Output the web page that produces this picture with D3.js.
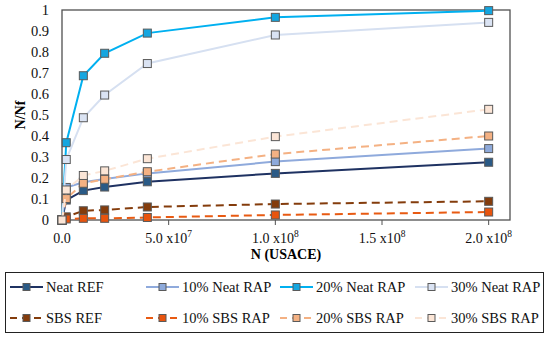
<!DOCTYPE html>
<html>
<head>
<meta charset="UTF-8">
<title>N/Nf vs N (USACE)</title>
<style>
    html, body { margin: 0; padding: 0; background: #fff; }
    svg { display: block; }
</style>
</head>
<body>
<svg width="550" height="339" font-family="Liberation Serif"></svg>
<script src="https://d3js.org/d3.v7.min.js"></script>
<script>
// data
var nValues = [0, 2e6, 1e7, 2e7, 4e7, 1e8, 2e8];
var neatRef = [0, 0.095, 0.140, 0.157, 0.182, 0.222, 0.275];
var neat10  = [0, 0.155, 0.180, 0.195, 0.222, 0.278, 0.340];
var neat20  = [0, 0.368, 0.687, 0.794, 0.890, 0.965, 0.997];
var neat30  = [0, 0.288, 0.487, 0.595, 0.745, 0.881, 0.941];
var sbsRef  = [0, 0.015, 0.044, 0.048, 0.062, 0.076, 0.089];
var sbs10   = [0, 0.005, 0.008, 0.008, 0.012, 0.024, 0.038];
var sbs20   = [0, 0.102, 0.175, 0.194, 0.230, 0.314, 0.400];
var sbs30   = [0, 0.143, 0.212, 0.234, 0.292, 0.397, 0.527];

var seriesNames = ["Neat REF", "10% Neat RAP", "20% Neat RAP", "30% Neat RAP",
                   "SBS REF", "10% SBS RAP", "20% SBS RAP", "30% SBS RAP"];
var seriesValues = [neatRef, neat10, neat20, neat30, sbsRef, sbs10, sbs20, sbs30];
var lineColors = ["#1f3262", "#8faadc", "#00b0f0", "#d6e0f1",
                  "#843c0c", "#e85a12", "#f4b183", "#fbe5d6"];
var markColors = ["#2a5a86", "#8eaadb", "#14a6e0", "#dae3f3",
                  "#843c0c", "#e8540e", "#f4b183", "#fbe5d6"];
var dashed = [false, false, false, false, true, true, true, true];

var xTicks = [0, 5e7, 1e8, 1.5e8, 2e8];
var xTickMant = ["0.0", "5.0 x10", "1.0 x10", "1.5 x10", "2.0 x10"];
var xTickExp = ["", "7", "8", "8", "8"];
var yTicks = [0, 0.1, 0.2, 0.3, 0.4, 0.5, 0.6, 0.7, 0.8, 0.9, 1];

// svg
var svg = d3.select("svg");
var pLeft = 62, pRight = 510, pTop = 10, pBottom = 220;

var x = d3.scaleLinear().domain([0, 2.1e8]).range([pLeft, pRight]);
var y = d3.scaleLinear().domain([0, 1]).range([pBottom, pTop]);

// plot frame
svg.append("rect")
    .attr("x", pLeft).attr("y", pTop)
    .attr("width", pRight - pLeft).attr("height", pBottom - pTop)
    .attr("fill", "none").attr("stroke", "#505050").attr("stroke-width", 1.3);

// x ticks
svg.selectAll(".xtick").data(xTicks).enter().append("line")
    .attr("x1", function (d) { return x(d); }).attr("x2", function (d) { return x(d); })
    .attr("y1", pBottom).attr("y2", pBottom + 5)
    .attr("stroke", "#505050").attr("stroke-width", 1);

var xl = svg.selectAll(".xlab").data(xTicks).enter().append("text")
    .attr("x", function (d) { return x(d); })
    .attr("y", 243)
    .attr("text-anchor", "middle")
    .attr("font-size", "14px")
    .attr("fill", "#111");
xl.append("tspan").text(function (d, i) { return xTickMant[i]; });
xl.append("tspan")
    .attr("dy", -6).attr("font-size", "9.5px")
    .text(function (d, i) { return xTickExp[i]; });

// y labels
svg.selectAll(".ylab").data(yTicks).enter().append("text")
    .attr("x", 49)
    .attr("y", function (d) { return y(d) + 5; })
    .attr("text-anchor", "end")
    .attr("font-size", "14.5px")
    .attr("fill", "#111")
    .text(function (d) { return d === 0 ? "0" : d === 1 ? "1" : d3.format(".1f")(d); });

// axis titles
svg.append("text")
    .attr("x", (pLeft + pRight) / 2).attr("y", 259)
    .attr("text-anchor", "middle").attr("font-size", "14px").attr("font-weight", "bold")
    .text("N (USACE)");
svg.append("text")
    .attr("transform", "translate(25," + ((pTop + pBottom) / 2) + ") rotate(-90)")
    .attr("text-anchor", "middle").attr("font-size", "14px").attr("font-weight", "bold")
    .text("N/Nf");

// series
var line = d3.line()
    .x(function (d, i) { return x(nValues[i]); })
    .y(function (d) { return y(d); });

var ms = 8;
seriesValues.forEach(function (vals, k) {
    var g = svg.append("g");
    g.append("path")
        .datum(vals)
        .attr("d", line)
        .attr("fill", "none")
        .attr("stroke", lineColors[k])
        .attr("stroke-width", 2)
        .attr("stroke-dasharray", dashed[k] ? "8,5" : null);
    g.selectAll("rect").data(vals).enter().append("rect")
        .attr("x", function (d, i) { return x(nValues[i]) - ms / 2; })
        .attr("y", function (d) { return y(d) - ms / 2; })
        .attr("width", ms).attr("height", ms)
        .attr("fill", markColors[k])
        .attr("stroke", "#5a5a5a").attr("stroke-width", 1);
});

// legend
svg.append("rect")
    .attr("x", 5.5).attr("y", 272.5)
    .attr("width", 538).attr("height", 60)
    .attr("fill", "none").attr("stroke", "#222").attr("stroke-width", 1);

var colX = [10, 146, 280, 415];
var rowY = [287, 318];
seriesNames.forEach(function (name, k) {
    var cx = colX[k % 4], cy = rowY[Math.floor(k / 4)];
    var lg = svg.append("g");
    lg.append("line")
        .attr("x1", cx).attr("x2", cx + 33)
        .attr("y1", cy).attr("y2", cy)
        .attr("stroke", lineColors[k]).attr("stroke-width", 2)
        .attr("stroke-dasharray", dashed[k] ? "7,5" : null);
    lg.append("rect")
        .attr("x", cx + 16.5 - 3.5).attr("y", cy - 3.5)
        .attr("width", 7).attr("height", 7)
        .attr("fill", markColors[k])
        .attr("stroke", "#5a5a5a").attr("stroke-width", 1);
    lg.append("text")
        .attr("x", cx + 36).attr("y", cy + 5)
        .attr("font-size", "14.5px").attr("fill", "#111")
        .text(name);
});
</script>
</body>
</html>
